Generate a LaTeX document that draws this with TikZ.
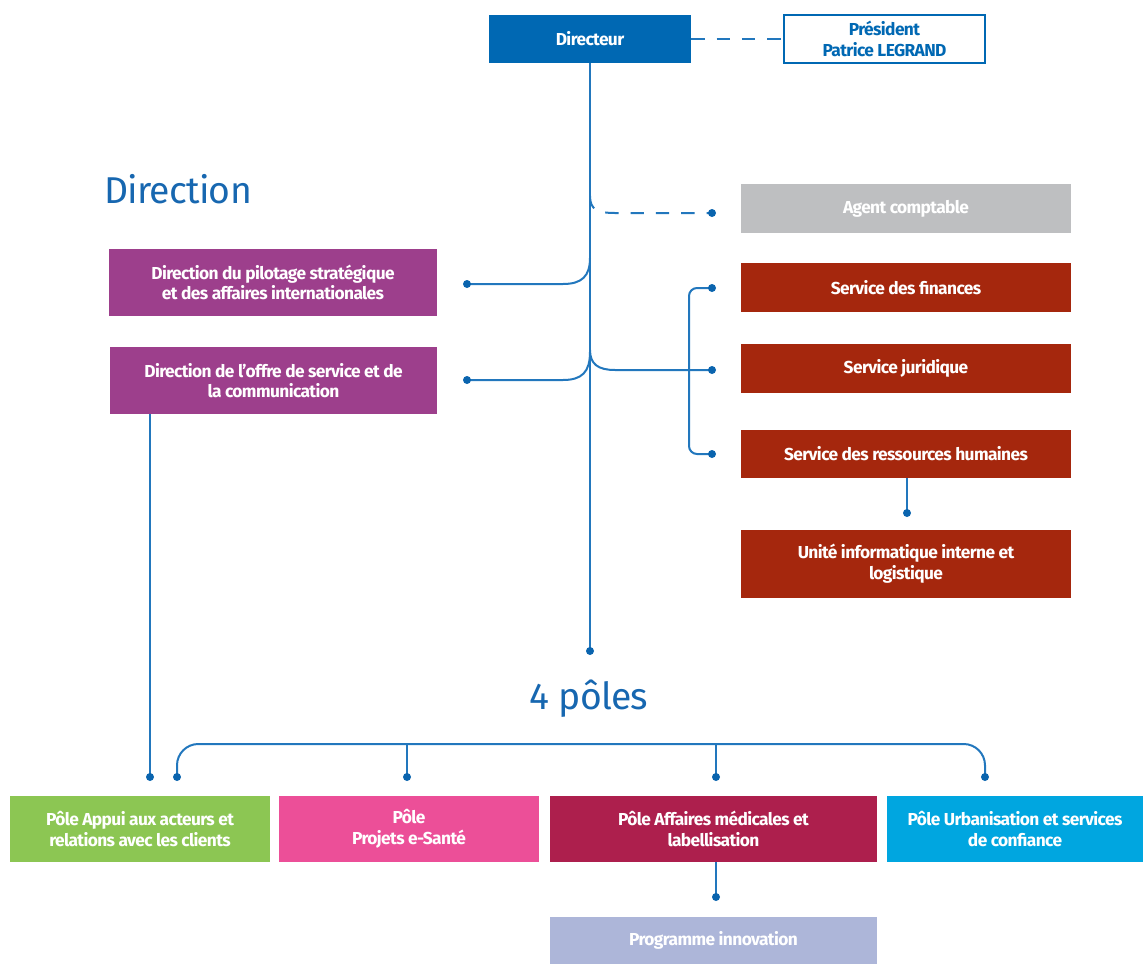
\documentclass[tikz,border=0pt]{standalone}
\usepackage{fontspec}
\setmainfont{Fira Sans}
\newfontfamily\boxfont{Fira Sans}[LetterSpace=-3.5]
\newfontfamily\titlefont{Fira Sans}[LetterSpace=-2.0]

\definecolor{dirblue}{HTML}{0068B3}
\definecolor{lineblue}{HTML}{2277BD}
\definecolor{dotblue}{HTML}{0A64AE}
\definecolor{titleblue}{HTML}{1767B0}
\definecolor{agentgray}{HTML}{BEBFC1}
\definecolor{dirpurple}{HTML}{9D3F8C}
\definecolor{servred}{HTML}{A5270D}
\definecolor{polegreen}{HTML}{8CC653}
\definecolor{polepink}{HTML}{EC4F98}
\definecolor{polecrimson}{HTML}{AD1F4D}
\definecolor{polecyan}{HTML}{00A6E0}
\definecolor{proglav}{HTML}{ADB6D9}

\tikzset{
  box/.style={rectangle, inner sep=0pt, text=white, align=center,
    font=\boxfont\fontsize{13}{15.5}\selectfont\bfseries},
  link/.style={draw=lineblue, line width=1.5pt},
  dashlink/.style={link, dash pattern=on 10pt off 9pt},
  dot/.style={fill=dotblue},
  title/.style={text=titleblue, font=\titlefont\fontsize{28}{30}\selectfont},
}

\begin{document}
\begin{tikzpicture}[x=0.75pt, y=-0.75pt]
\useasboundingbox (0,0) rectangle (1143,964);

% --- top level
\node[box, fill=dirblue, minimum width=151.5pt, minimum height=36pt] (dir) at (590,39) {Directeur};
\node[box, fill=white, draw=dirblue, line width=1.5pt, text=dirblue,
      minimum width=150.75pt, minimum height=36pt] (pres) at (884.5,39) {Président\\Patrice LEGRAND};

\node[title] (tdir) at (178,189) {Direction};
\node[title] (tpoles) at (589,699) {4 pôles};

% --- directions (left)
\node[box, fill=dirpurple, minimum width=246pt, minimum height=50.25pt] (pilot) at (273,282.5)
  {Direction du pilotage stratégique\\et des affaires internationales};
\node[box, fill=dirpurple, minimum width=245.25pt, minimum height=50.25pt] (offre) at (273.5,380.5)
  {Direction de l’offre de service et de\\la communication};

% --- services (right)
\node[box, fill=agentgray, minimum width=247.5pt, minimum height=36.75pt] (agent) at (906,208.5)
  {\raisebox{-2pt}{Agent comptable}};
\node[box, fill=servred, minimum width=247.5pt, minimum height=36.75pt] (fin) at (906,287.5) {Service des finances};
\node[box, fill=servred, minimum width=247.5pt, minimum height=36.75pt] (jur) at (906,368.5) {Service juridique};
\node[box, fill=servred, minimum width=247.5pt, minimum height=36pt] (rh) at (906,454) {Service des ressources humaines};
\node[box, fill=servred, minimum width=247.5pt, minimum height=51pt] (unite) at (906,564)
  {Unité informatique interne et\\logistique};

% --- poles
\node[box, fill=polegreen, minimum width=195pt, minimum height=49.5pt] (appui) at (140,829)
  {Pôle Appui aux acteurs et\\relations avec les clients};
\node[box, fill=polepink, minimum width=195pt, minimum height=49.5pt] (projets) at (409,829)
  {Pôle\\Projets e-Santé};
\node[box, fill=polecrimson, minimum width=245.25pt, minimum height=49.5pt] (affaires) at (713.5,829)
  {Pôle Affaires médicales et\\labellisation};
\node[box, fill=polecyan, minimum width=192pt, minimum height=49.5pt] (urba) at (1015,829)
  {Pôle Urbanisation et services\\de confiance};
\node[box, fill=proglav, minimum width=245.25pt, minimum height=35.25pt] (prog) at (713.5,940.5)
  {Programme innovation};

% --- connector end points
\coordinate (maindot) at (590,651);
\coordinate (agentdot) at (712,213);
\coordinate (pilotdot) at (467,284);
\coordinate (offredot) at (467,380);
\coordinate (findot) at (712,288);
\coordinate (jurdot) at (712,370);
\coordinate (rhdot) at (712,454);
\coordinate (unitedot) at (907,513);
\coordinate (offredown) at (150,777);
\coordinate (appuidot) at (177,777);
\coordinate (projetsdot) at (407,777);
\coordinate (affairesdot) at (716,777);
\coordinate (urbadot) at (985,777);
\coordinate (progdot) at (716,897);

% --- connectors
\draw[dashlink] (dir.east) -- (pres.west);
\draw[link] (dir.south) -- (maindot);
\draw[dashlink] (590,196) .. controls (590,210) and (598,213) .. (615,213) -- (agentdot);
\draw[link] (pilotdot) -- (563,284) .. controls (582,284) and (590,276) .. (590,258);
\draw[link] (offredot) -- (563,380) .. controls (582,380) and (590,372) .. (590,352);
\draw[link] (590,350) .. controls (590,364) and (598,370) .. (615,370) -- (jurdot);
\draw[link, rounded corners=6pt] (findot) -| (689,454) -- (rhdot);
\draw[link] (rh.south -| unitedot) -- (unitedot);
\draw[link] (offre.south -| offredown) -- (offredown);
\draw[link, rounded corners=16pt] (appuidot) |- (985,744) -- (urbadot);
\draw[link] (407,744) -- (projetsdot);
\draw[link] (716,744) -- (affairesdot);
\draw[link] (affaires.south -| progdot) -- (progdot);

% --- dots
\foreach \p in {maindot,agentdot,pilotdot,offredot,findot,jurdot,rhdot,unitedot,
                offredown,appuidot,projetsdot,affairesdot,urbadot,progdot}
  \fill[dot] (\p) circle (3pt);
\end{tikzpicture}
\end{document}
